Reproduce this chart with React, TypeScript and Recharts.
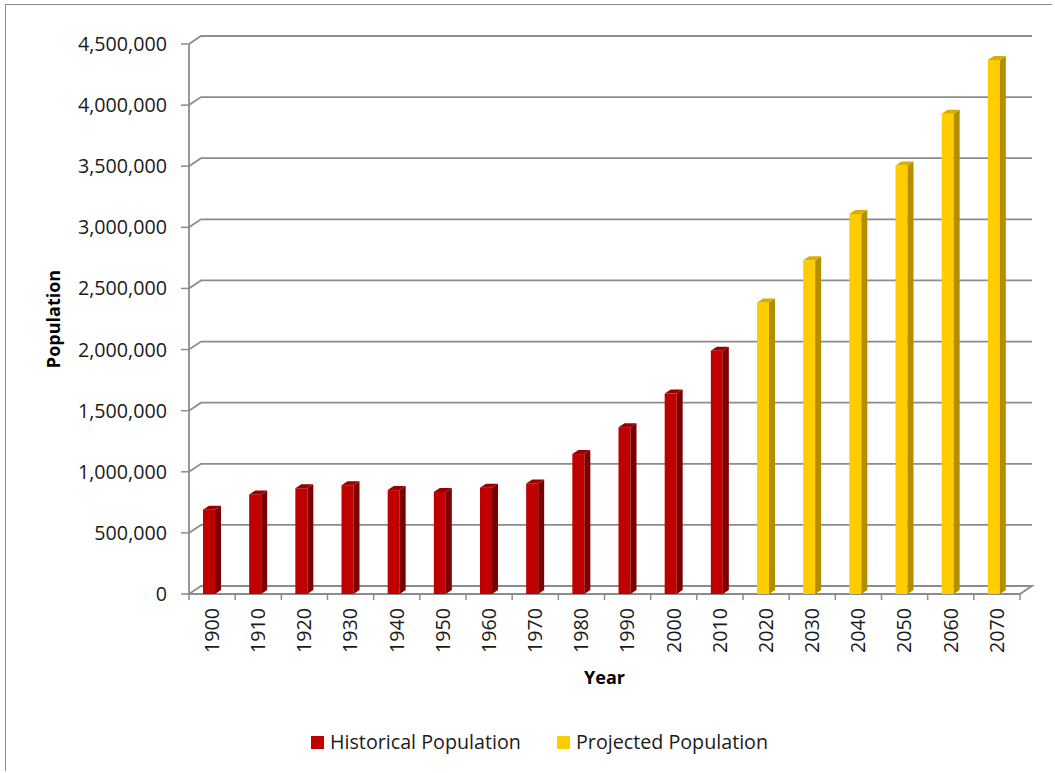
import { Bar, BarChart, CartesianGrid, Legend, XAxis, YAxis } from "recharts";

const years = [
  "1900", "1910", "1920", "1930", "1940", "1950", "1960", "1970", "1980",
  "1990", "2000", "2010", "2020", "2030", "2040", "2050", "2060", "2070",
];

const historical = [
  690000, 815000, 865000, 890000, 850000, 835000, 870000, 905000, 1145000,
  1365000, 1640000, 1990000, null, null, null, null, null, null,
];

const projected = [
  null, null, null, null, null, null, null, null, null, null, null, null,
  2385000, 2730000, 3110000, 3505000, 3930000, 4370000,
];

const yTicks = [0, 500000, 1000000, 1500000, 2000000, 2500000, 3000000, 3500000, 4000000, 4500000];

const data = years.map((year, i) => ({
  year,
  historical: historical[i],
  projected: projected[i],
}));

// layout of the chart (svg coords)
const W = 1046;
const H = 766;
const PLOT_LEFT = 183;
const PLOT_RIGHT = 1014;
const PLOT_TOP = 39;
const PLOT_BOTTOM = 589;
const YAXIS_W = 160;
const XAXIS_H = 80;
const WALL_DX = 12;
const WALL_DY = 8;

const GREY = "#8c8c8c";
const TEXT = "#1a1a1a";
const FONT = 19.7;

const make3DBar = (front: string, side: string, top: string) => (props: any) => {
  const { x, y, width, height } = props;
  if (!(height > 0.5) || x == null || y == null) return <g />;
  const fw = Math.round(width * 0.66);
  const d = width - fw;
  const dv = 4;
  return (
    <g>
      <rect x={x} y={y} width={fw} height={height} fill={front} />
      <polygon
        points={`${x + fw},${y} ${x + width},${y - dv} ${x + width},${y + height - dv} ${x + fw},${y + height}`}
        fill={side}
      />
      <polygon points={`${x},${y} ${x + d},${y - dv} ${x + width},${y - dv} ${x + fw},${y}`} fill={top} />
    </g>
  );
};

const gridLine = (props: any) => {
  const { x1, x2, y1 } = props;
  if (Math.abs(y1 - PLOT_BOTTOM) < 1) {
    // floor
    return (
      <path
        key={props.key}
        d={`M${x1},${y1} L${x2},${y1} L${x2 + WALL_DX},${y1 - WALL_DY} L${x1 + WALL_DX},${y1 - WALL_DY} Z`}
        fill="none"
        stroke={GREY}
        strokeWidth={1.8}
      />
    );
  }
  return (
    <path
      key={props.key}
      d={`M${x1},${y1} L${x1 + WALL_DX},${y1 - WALL_DY} L${x2 + WALL_DX},${y1 - WALL_DY}`}
      fill="none"
      stroke={GREY}
      strokeWidth={1.8}
    />
  );
};

const YearTick = (props: any) => {
  const { x, y, payload, index, visibleTicksCount } = props;
  const half = payload.offset || (PLOT_RIGHT - PLOT_LEFT) / years.length / 2;
  const base = y - 14;
  const last = index === (visibleTicksCount ?? years.length) - 1;
  return (
    <g>
      <line x1={x - half} x2={x - half} y1={base} y2={base + 6} stroke={GREY} strokeWidth={1.5} />
      {last && <line x1={x + half} x2={x + half} y1={base} y2={base + 6} stroke={GREY} strokeWidth={1.5} />}
      <text
        x={x}
        y={y}
        transform={`rotate(-90 ${x} ${y})`}
        textAnchor="end"
        dy="0.35em"
        fontSize={FONT}
        fill={TEXT}
      >
        {payload.value}
      </text>
    </g>
  );
};

const legendLeft = [305, 551];

const renderLegend = (props: any) => {
  const { payload } = props;
  return (
    <div style={{ position: "relative", height: 22, fontSize: FONT, color: TEXT }}>
      {(payload || []).map((entry: any, i: number) => (
        <div
          key={entry.value}
          style={{
            position: "absolute",
            left: legendLeft[i],
            top: 0,
            height: 22,
            display: "flex",
            alignItems: "center",
            whiteSpace: "nowrap",
          }}
        >
          <span style={{ width: 13, height: 13, background: entry.color, marginRight: 6, display: "inline-block" }} />
          <span style={{ lineHeight: "22px" }}>{entry.value}</span>
        </div>
      ))}
    </div>
  );
};

export default function App() {
  return (
    <div
      style={{
        position: "absolute",
        left: 5,
        top: 4,
        width: W,
        height: H,
        borderTop: `1px solid ${GREY}`,
        borderLeft: `1px solid ${GREY}`,
        background: "#fff",
        fontFamily: "'Open Sans', sans-serif",
      }}
    >
      <BarChart
        width={W}
        height={H}
        data={data}
        barSize={18}
        margin={{
          top: PLOT_TOP,
          right: W - PLOT_RIGHT,
          left: PLOT_LEFT - YAXIS_W,
          bottom: H - PLOT_BOTTOM - XAXIS_H,
        }}
      >
        <CartesianGrid vertical={false} horizontal={gridLine} />
        <XAxis
          dataKey="year"
          interval={0}
          height={XAXIS_H}
          axisLine={false}
          tickLine={false}
          tickSize={6}
          tickMargin={8}
          tick={<YearTick />}
          label={{
            content: (p: any) => (
              <text
                x={p.viewBox.x + p.viewBox.width / 2}
                y={p.viewBox.y + 83}
                textAnchor="middle"
                dominantBaseline="central"
                fontSize={18}
                fontWeight="bold"
                fill="#000"
              >
                Year
              </text>
            ),
          }}
        />
        <YAxis
          width={YAXIS_W}
          domain={[0, 4500000]}
          ticks={yTicks}
          interval={0}
          tickFormatter={(v: number) => v.toLocaleString("en-US")}
          tick={{ fontSize: FONT, fill: TEXT }}
          tickSize={8}
          tickMargin={14}
          tickLine={{ stroke: GREY, strokeWidth: 1.5 }}
          axisLine={{ stroke: GREY, strokeWidth: 1.8 }}
          label={{
            content: (p: any) => {
              const cx = p.viewBox.x + 24;
              const cy = p.viewBox.y + p.viewBox.height / 2;
              return (
                <text
                  x={cx}
                  y={cy}
                  transform={`rotate(-90 ${cx} ${cy})`}
                  textAnchor="middle"
                  dominantBaseline="central"
                  fontSize={18}
                  fontWeight="bold"
                  fill="#000"
                >
                  Population
                </text>
              );
            },
          }}
        />
        <Legend
          verticalAlign="middle"
          align="center"
          wrapperStyle={{ top: 726, left: 0, width: W, height: 22 }}
          content={renderLegend}
        />
        <Bar
          dataKey="historical"
          name="Historical Population"
          stackId="pop"
          fill="#C00000"
          isAnimationActive={false}
          shape={make3DBar("#C00000", "#7d0000", "#990000")}
        />
        <Bar
          dataKey="projected"
          name="Projected Population"
          stackId="pop"
          fill="#FFCC00"
          isAnimationActive={false}
          shape={make3DBar("#FFCC00", "#b38f00", "#d9ad00")}
        />
      </BarChart>
    </div>
  );
}
